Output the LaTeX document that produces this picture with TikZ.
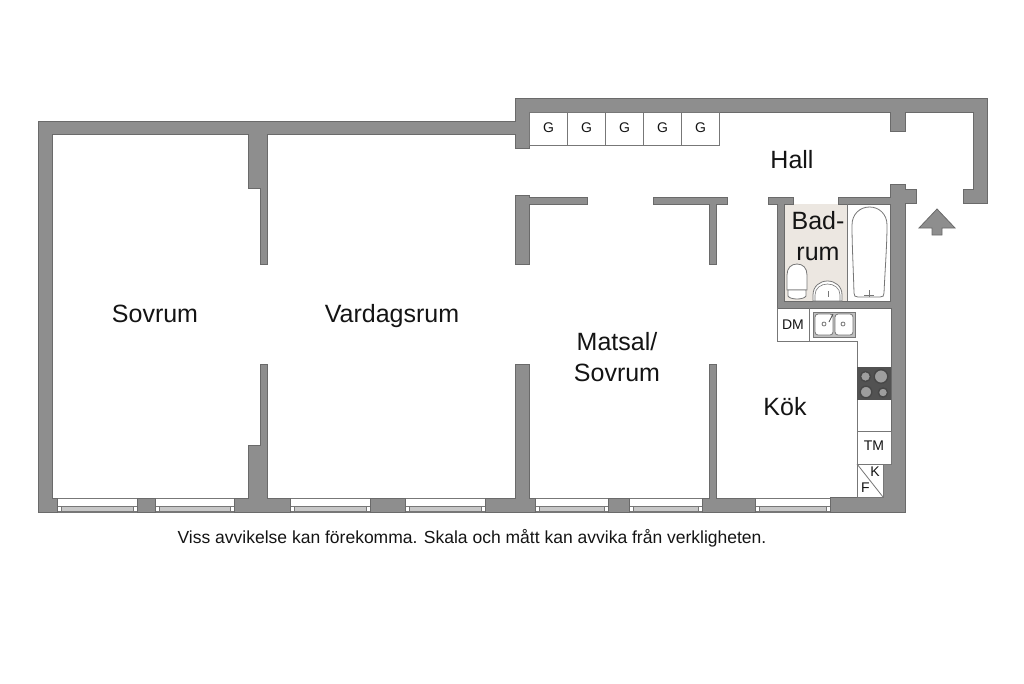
\documentclass[tikz,border=0pt]{standalone}
\usepackage{fontspec}
\setmainfont{Liberation Sans}
\definecolor{wallgray}{HTML}{8E8E8E}
\definecolor{walledge}{HTML}{6A6A6A}
\definecolor{bathfloor}{HTML}{ECE7E1}
\definecolor{fixline}{HTML}{777777}
\tikzset{
    wall/.style = {fill=wallgray, draw=walledge, line width=0.8pt},
    fixture/.style = {draw=fixline, line width=0.8pt, fill=white},
    roomlabel/.style = {font=\fontsize{25}{30}\selectfont, text=black!92, inner sep=0pt},
    unitlabel/.style = {font=\fontsize{14}{16}\selectfont, text=black!92, inner sep=0pt},
    cooker/.style = {fill=black!38, draw=black!72, line width=1.4pt}
}
\begin{document}
\begin{tikzpicture}[x=1pt, y=-1pt]
    \useasboundingbox (0,0) rectangle (1024,683);

    \fill [bathfloor] (784,204) rectangle (847,301);

    \foreach \wx/\wxe in {57/137, 155/234, 290/370, 405/485, 535/608, 629/702, 755/830} {
      \draw [fixture] (\wx,498) rectangle (\wxe,512);
      \draw [fixture, fill=black!22] (\wx+4,506.5) rectangle (\wxe-4,511.5);
      \draw [fixture, line width=0.6pt] (\wx,506.5) rectangle (\wx+4,511.5);
      \draw [fixture, line width=0.6pt] (\wxe-4,506.5) rectangle (\wxe,511.5);
    }

    \draw [wall] (38,121) -- (515,121) -- (515,98) -- (987,98) -- (987,203) -- (963,203)
      -- (963,189) -- (973,189) -- (973,112) -- (905,112) -- (905,131) -- (890,131)
      -- (890,112) -- (529,112) -- (529,148) -- (515,148) -- (515,134) -- (267,134)
      -- (267,264) -- (260,264) -- (260,188) -- (248,188) -- (248,134) -- (52,134)
      -- (52,498) -- (57,498) -- (57,512) -- (38,512) -- cycle;
    \draw [wall] (137,498) rectangle (155,512);
    \draw [wall] (370,498) rectangle (405,512);
    \draw [wall] (608,498) rectangle (629,512);
    \draw [wall] (234,498) -- (248,498) -- (248,445) -- (260,445) -- (260,364) -- (267,364)
      -- (267,498) -- (290,498) -- (290,512) -- (234,512) -- cycle;
    \draw [wall] (485,498) -- (515,498) -- (515,364) -- (529,364) -- (529,498) -- (535,498)
      -- (535,512) -- (485,512) -- cycle;
    \draw [wall] (702,498) -- (709,498) -- (709,364) -- (716,364) -- (716,498) -- (755,498)
      -- (755,512) -- (702,512) -- cycle;
    \draw [wall] (515,195) -- (529,195) -- (529,197) -- (587,197) -- (587,204) -- (529,204)
      -- (529,264) -- (515,264) -- cycle;
    \draw [wall] (653,197) -- (727,197) -- (727,204) -- (716,204) -- (716,264) -- (709,264)
      -- (709,204) -- (653,204) -- cycle;
    \draw [wall] (830,497) -- (883,497) -- (883,464) -- (891,464) -- (891,308) -- (777,308)
      -- (777,204) -- (768,204) -- (768,197) -- (793,197) -- (793,204) -- (784,204)
      -- (784,301) -- (890,301) -- (890,204) -- (838,204) -- (838,197) -- (890,197)
      -- (890,184) -- (905,184) -- (905,189) -- (916,189) -- (916,203) -- (905,203)
      -- (905,512) -- (830,512) -- cycle;
    \draw [wall] (937,209) -- (955,228) -- (942,228) -- (942,235) -- (932,235) -- (932,228)
      -- (919,228) -- cycle;

    \foreach \gx [count=\gi] in {529,567,605,643,681} {
      \draw [fixture] (\gx,112) rectangle (\gx+38,145);
      \node (g\gi) [unitlabel] at (\gx+19.5,128) {G};
    }

    \draw [fixline, line width=0.8pt] (847,204) -- (847,301);
    \draw [fixture] (854,293) .. controls (853,260) and (852,245) .. (852,225)
      .. controls (852,214) and (860,207) .. (869.5,207)
      .. controls (879,207) and (887,214) .. (887,225)
      .. controls (887,245) and (885,270) .. (884,293)
      .. controls (884,296) and (883,297) .. (880,297) -- (858,297)
      .. controls (855,297) and (854,296) .. (854,293) -- cycle;
    \draw [fixline, line width=1pt] (869,290) -- (869,297) (864,295) -- (874,295);
    \draw [fixture] (787,290) -- (787,275) .. controls (787,268) and (791,264) .. (797,264)
      .. controls (803,264) and (807,268) .. (807,275) -- (807,290) -- cycle;
    \draw [fixture] (788,290) -- (806,290) -- (806,296) .. controls (804,300) and (790,300) .. (788,296) -- cycle;
    \draw [fixture] (813,301) -- (813,295) .. controls (813,286) and (820,281) .. (827.5,281)
      .. controls (835,281) and (842,286) .. (842,295) -- (842,301) -- cycle;
    \draw [fixline, line width=0.6pt] (815,301) -- (815,295) .. controls (815,288) and (821,284) .. (827.5,284)
      .. controls (834,284) and (840,288) .. (840,295) -- (840,301);
    \draw [fixline, line width=1pt] (828,291) -- (828,297);

    \draw [fixline, line width=0.8pt, fill=white] (777,308) -- (777,341) -- (857,341) -- (857,497);
    \draw [fixline, line width=0.8pt] (809,308) -- (809,341);
    \draw [fixture, fill=black!25, line width=1pt] (813,312) rectangle (855,337);
    \draw [fixture, rounded corners=3pt] (815,314) rectangle (833,335);
    \draw [fixture, rounded corners=3pt] (835,314) rectangle (853,335);
    \draw [fixline, line width=0.8pt] (824,324) circle (2) (843,324) circle (2);
    \draw [black!70, line width=0.8pt] (833,314) -- (829,322);

    \fill [black!68] (857,367) rectangle (891,399.5);
    \draw [cooker] (865.5,376.5) circle (5);
    \draw [cooker] (881,376.5) circle (6.8);
    \draw [cooker] (866,392) circle (5.8);
    \draw [cooker] (883,392.5) circle (4.6);

    \draw [fixture] (857,431) rectangle (891,464);
    \draw [fixture] (857,464) rectangle (883,497);
    \draw [fixline, line width=0.8pt] (857,464) -- (883,497);

    \node (sovrum) [roomlabel] at (155,314) {Sovrum};
    \node (vardagsrum) [roomlabel] at (392,316) {Vardagsrum};
    \node (matsal) [roomlabel, align=center, font=\fontsize{25}{30.5}\selectfont] at (617,357) {Matsal/\\Sovrum};
    \node (kok) [roomlabel] at (785,407) {Kök};
    \node (hall) [roomlabel] at (792,160) {Hall};
    \node (bad) [roomlabel, align=center, font=\fontsize{25}{31}\selectfont] at (818,236) {Bad-\\rum};
    \node (dm) [unitlabel] at (793,325) {DM};
    \node (tm) [unitlabel] at (874,446) {TM};
    \node (kyl) [unitlabel] at (875,472) {K};
    \node (frys) [unitlabel] at (865.5,488) {F};
    \node (note) [inner sep=0pt, text=black!92, font=\fontsize{17.5}{20}\selectfont] at (472,538.5)
      {Viss avvikelse kan förekomma. Skala och mått kan avvika från verkligheten.};
\end{tikzpicture}
\end{document}
